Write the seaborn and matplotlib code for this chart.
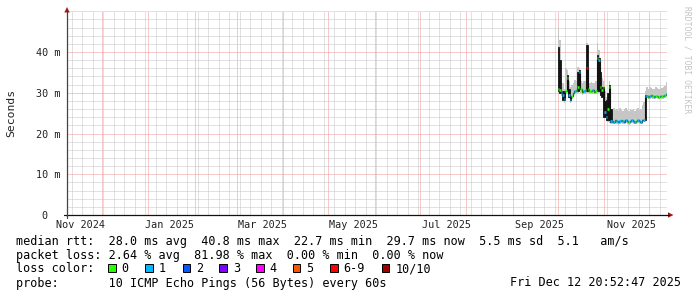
import numpy as np
import pandas as pd
import matplotlib
matplotlib.use("Agg")
import matplotlib.pyplot as plt
import matplotlib.dates as mdates
import seaborn as sns
from matplotlib.patches import Rectangle, Polygon
from matplotlib.lines import Line2D
from matplotlib.transforms import blended_transform_factory

# ---------------- data ----------------
first_day = "2025-10-01"
graph_end = "2025-12-12 20:52:47"
window_days = 400

median_ms = [31.0, 30.6, 30.2, 29.5, 28.4, 30.5, 33.5, 29.5, 28.3, 29.2,
             30.0, 30.4, 30.6, 31.5, 35.0, 31.0, 30.3, 30.5, 30.6, 36.0,
             30.8, 30.5, 30.4, 30.6, 30.3, 30.5, 38.5, 38.0, 31.5, 30.6,
             31.3, 25.3, 24.0, 26.0, 31.3, 23.0,
             23.1, 22.9, 23.2, 23.0, 22.8, 23.1, 23.3, 23.0, 22.9, 23.2, 23.1,
             22.8, 23.0, 23.2, 23.1, 22.9, 23.0, 23.3, 23.1, 22.9, 23.2, 23.4,
             29.2,
             29.3, 29.0, 29.2, 29.4, 29.1, 29.0, 29.3, 29.2, 29.0, 29.3, 29.1,
             29.2, 29.5, 29.7]
smoke_hi = [46.0, 43.0, 33.0, 32.5, 31.0, 36.0, 35.6, 33.0, 31.5, 32.0,
            32.5, 33.1, 33.0, 36.4, 36.0, 33.0, 32.5, 32.8, 33.0, 42.1,
            33.0, 32.4, 32.6, 32.3, 32.5, 33.0, 42.2, 40.5, 36.0, 33.5,
            33.0, 30.5, 29.0, 29.5, 33.0, 26.0,
            25.6, 26.2, 25.8, 26.0, 25.4, 26.2, 25.8, 25.5, 26.0, 26.3, 25.7,
            25.4, 26.0, 25.8, 26.1, 25.6, 25.9, 26.2, 25.7, 26.0, 27.0, 27.8,
            30.5,
            31.3, 31.0, 31.5, 31.2, 30.8, 31.0, 31.4, 31.2, 30.9, 31.3, 31.1,
            31.4, 31.6, 32.7]
smoke_lo = [29.8, 29.6, 29.3, 28.5, 27.6, 29.6, 30.5, 28.6, 27.6, 28.5,
            29.2, 29.6, 29.8, 30.0, 30.2, 30.0, 29.5, 29.7, 29.8, 30.0,
            30.0, 29.8, 29.7, 29.8, 29.6, 29.8, 30.2, 30.0, 29.3, 29.8,
            24.5, 24.0, 23.0, 22.8, 22.6, 22.3,
            22.4, 22.3, 22.5, 22.4, 22.2, 22.4, 22.6, 22.4, 22.3, 22.5, 22.4,
            22.2, 22.4, 22.5, 22.4, 22.3, 22.4, 22.6, 22.4, 22.3, 22.5, 22.7,
            23.0,
            28.6, 28.4, 28.5, 28.7, 28.4, 28.4, 28.6, 28.5, 28.4, 28.6, 28.5,
            28.5, 28.8, 29.0]
loss_idx = [0, 0, 1, 1, 1, 0, 0, 1, 1, 0,
            0, 1, 0, 0, 1, 0, 0, 1, 0, 6,
            0, 0, 0, 1, 0, 0, 0, 1, 0, 0,
            0, 1, 1, 0, 0, 1,
            1, 1, 0, 1, 1, 1, 0, 1, 1, 1, 1,
            0, 1, 1, 1, 1, 0, 1, 1, 1, 1, 1,
            1,
            1, 0, 1, 0, 0, 1, 0, 0, 0, 1, 0,
            1, 0, 1]
spike_days = [0, 1, 3, 4, 6, 7, 13, 14, 19, 26, 27, 28, 29, 30, 31, 32, 33, 34, 35, 58]
spike_lo = [30.5, 30.0, 28.2, 28.2, 31.0, 29.0, 30.5, 31.0, 30.5, 31.0,
            30.5, 29.5, 29.0, 24.1, 24.1, 23.3, 23.3, 23.3, 22.9, 23.2]
spike_hi = [41.3, 38.0, 30.5, 30.0, 34.4, 31.0, 35.2, 35.5, 41.7, 39.3,
            38.5, 35.2, 31.5, 31.5, 28.0, 28.2, 30.0, 31.9, 26.0, 29.4]

loss_labels = ["0", "1", "2", "3", "4", "5", "6-9", "10/10"]
loss_colors = ["#26ff00", "#00b8ff", "#0059ff", "#7e00ff", "#ff00ff",
               "#ff5500", "#ff0000", "#a10000"]

y_ticks = [0, 10, 20, 30, 40]
y_ticklabels = ["0  ", "10 m", "20 m", "30 m", "40 m"]
x_labels = ["Nov 2024", "Jan 2025", "Mar 2025", "May 2025", "Jul 2025", "Sep 2025", "Nov 2025"]
x_label_dates = ["2024-11-17", "2025-01-15", "2025-03-18", "2025-05-18",
                 "2025-07-19", "2025-09-19", "2025-11-19"]

legend_rows = [
    "median rtt:  28.0 ms avg  40.8 ms max  22.7 ms min  29.7 ms now  5.5 ms sd  5.1   am/s",
    "packet loss: 2.64 % avg  81.98 % max  0.00 % min  0.00 % now",
    "loss color:",
    "probe:       10 ICMP Echo Pings (56 Bytes) every 60s",
]
legend_y = [241, 255.5, 269, 283]
stamp = "Fri Dec 12 20:52:47 2025"
swatch_x = [108, 145, 182.7, 219.3, 256, 292.7, 330, 381.7]

# ---------------- figure ----------------
sns.set_style("white")
plt.rcParams["font.family"] = ["DejaVu Sans Mono", "DejaVu Sans"]

W, H = 697, 297
fig = plt.figure(figsize=(W / 100, H / 100), dpi=100)
fig.patch.set_facecolor("white")


def fx(x):
    return x / W


def fy(y):
    return 1 - y / H


ax = fig.add_axes([fx(67), 82 / H, 600 / W, 203.75 / H])
ax.set_facecolor("white")

end = pd.Timestamp(graph_end)
start = end - pd.Timedelta(days=window_days)
days = pd.date_range(first_day, periods=len(median_ms), freq="D")
xnum = mdates.date2num(days.to_pydatetime())
edges = np.append(xnum, mdates.date2num(end.to_pydatetime()))

med = np.array(median_ms)
hi = np.array(smoke_hi)
lo = np.array(smoke_lo)

# smoke
ax.fill_between(edges, np.append(lo, lo[-1]), np.append(hi, hi[-1]), step="post",
                color="#c6c6c6", linewidth=0, zorder=2)
# dark spikes
sx = xnum[spike_days]
ax.bar(sx, np.array(spike_hi) - np.array(spike_lo), bottom=spike_lo, width=1.0,
       align="edge", color="#151515", edgecolor="#151515", linewidth=0.6, zorder=3)
# thin median connector
sns.lineplot(x=edges, y=np.append(med, med[-1]), drawstyle="steps-post",
             color="#111111", linewidth=0.8, ax=ax, zorder=4, estimator=None)
# coloured median by loss
ax.hlines(med, edges[:-1], edges[1:], colors=[loss_colors[i] for i in loss_idx],
          linewidth=1.9, zorder=5)

ax.set_xlim(mdates.date2num(start.to_pydatetime()), mdates.date2num(end.to_pydatetime()))
ax.set_ylim(0, 50)

# grid
month_starts = pd.date_range("2024-12-01", "2025-12-01", freq="MS")
weeks = pd.date_range("2024-11-11", "2025-12-12", freq="W-MON")
ax.set_xticks(mdates.date2num(month_starts.to_pydatetime()))
ax.set_xticks(mdates.date2num(weeks.to_pydatetime()), minor=True)
ax.set_xticklabels([])
ax.set_yticks(y_ticks)
ax.set_yticklabels(y_ticklabels)
ax.set_yticks(np.arange(0, 51, 2), minor=True)
ax.set_axisbelow(True)
ax.grid(True, which="minor", color="#c4c4c4", linestyle=(0, (1, 1)), linewidth=0.72)
ax.grid(True, which="major", color="#f09696", linestyle=(0, (1, 1)), linewidth=0.72)
for s in ax.spines.values():
    s.set_visible(False)
ax.tick_params(axis="x", which="both", length=0)
ax.tick_params(axis="y", which="both", length=2.2, width=0.7, color="#666666",
               direction="out", pad=2.8, labelsize=7.3, labelcolor="#222222")

# x labels at mid-month
tr = blended_transform_factory(ax.transData, ax.transAxes)
for d, lab in zip(x_label_dates, x_labels):
    ax.text(mdates.date2num(pd.Timestamp(d).to_pydatetime()), -10 / 203.75, lab,
            transform=tr, ha="center", va="center", fontsize=7.3, color="#222222")

# axis lines with arrows
fig.add_artist(Line2D([fx(64), fx(669)], [fy(215), fy(215)], color="#111111", lw=0.9))
fig.add_artist(Line2D([fx(67), fx(67)], [fy(218), fy(11)], color="#444444", lw=0.9))
arrow_c = "#9b1c1c"
fig.add_artist(Polygon([(fx(668), fy(212.3)), (fx(668), fy(217.7)), (fx(673.5), fy(215))],
                       closed=True, color=arrow_c, lw=0))
fig.add_artist(Polygon([(fx(64.3), fy(12.5)), (fx(69.7), fy(12.5)), (fx(67), fy(7))],
                       closed=True, color=arrow_c, lw=0))

# y label & watermark
fig.text(fx(11), fy(113), "Seconds", rotation=90, ha="center", va="center",
         fontsize=8.2, color="#222222")
fig.text(fx(687), fy(60), "RRDTOOL / TOBI OETIKER", rotation=270, ha="center",
         va="center", fontsize=5.8, color="#c4c4c4")

# legend
LFS = 8.5
for s, yy in zip(legend_rows, legend_y):
    fig.text(fx(16), fy(yy), s, ha="left", va="center", fontsize=LFS, color="#000000")
fig.text(fx(681), fy(283), stamp, ha="right", va="center", fontsize=LFS, color="#000000")
for x, c, lab in zip(swatch_x, loss_colors, loss_labels):
    fig.add_artist(Rectangle((fx(x), fy(272)), 7.6 / W, 7.6 / H, transform=fig.transFigure,
                             facecolor=c, edgecolor="#000000", lw=0.7))
    fig.text(fx(x + 13.5), fy(269), lab, ha="left", va="center", fontsize=LFS, color="#000000")

fig.savefig("out.png", dpi=100, facecolor="white")
